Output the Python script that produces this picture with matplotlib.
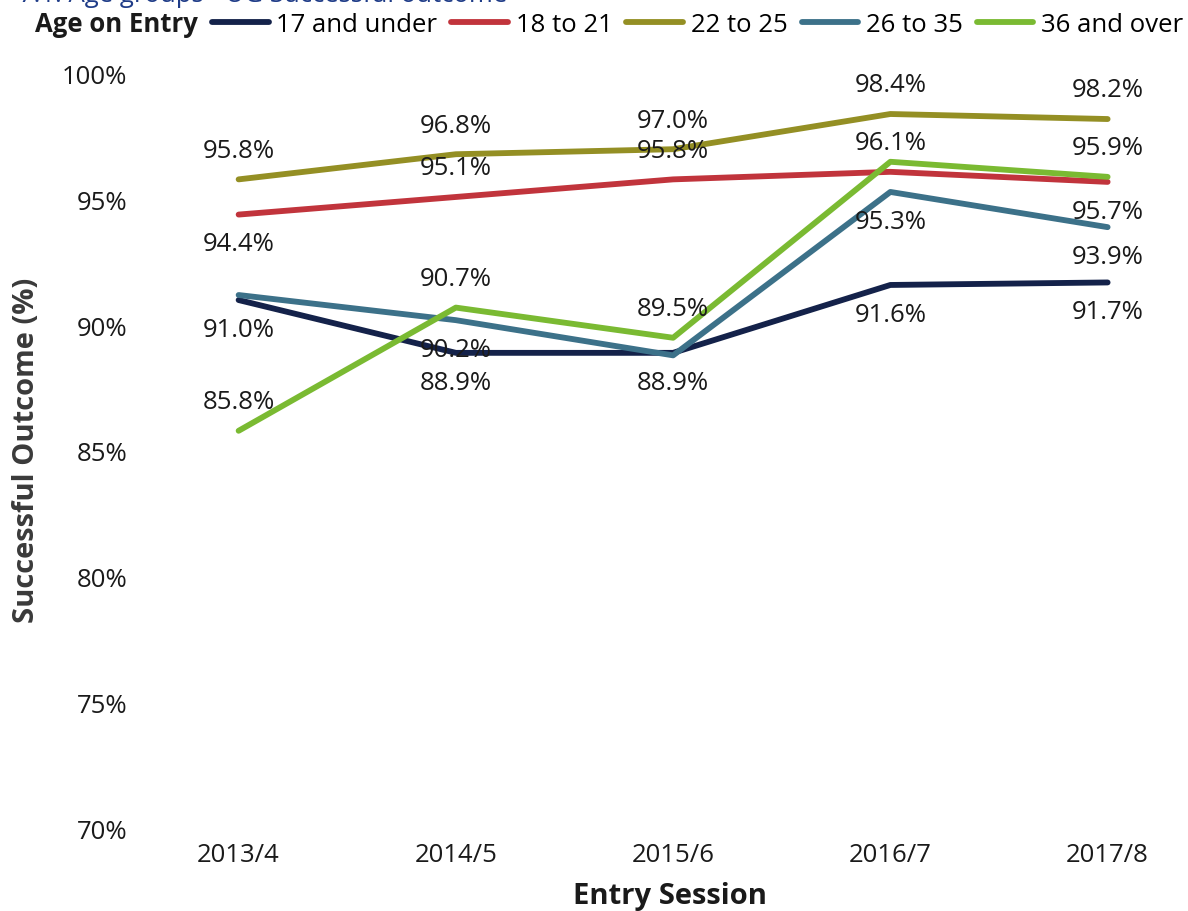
import matplotlib
matplotlib.use("Agg")
import matplotlib.pyplot as plt

plt.rcParams['font.family'] = ['Open Sans', 'DejaVu Sans']

sessions = ["2013/4", "2014/5", "2015/6", "2016/7", "2017/8"]
age_groups = ["17 and under", "18 to 21", "22 to 25", "26 to 35", "36 and over"]

under_17 = [91.0, 88.9, 88.9, 91.6, 91.7]
age_18_21 = [94.4, 95.1, 95.8, 96.1, 95.7]
age_22_25 = [95.8, 96.8, 97.0, 98.4, 98.2]
age_26_35 = [91.2, 90.2, 88.8, 95.3, 93.9]
over_36 = [85.8, 90.7, 89.5, 96.5, 95.9]

series = [under_17, age_18_21, age_22_25, age_26_35, over_36]
colors = ["#14224a", "#c1343c", "#948f24", "#3c7189", "#7aba32"]

# where the data label sits for each point (None = label hidden, as in the original)
label_side = [
    ["below", "below", "below", "below", "below"],
    ["below", "above", "above", "above", "below"],
    ["above", "above", "above", "above", "above"],
    [None, "below", None, "below", "below"],
    ["above", "above", "above", None, "above"],
]

FS = 18.5

fig = plt.figure(figsize=(11.88, 9.12), dpi=100)
ax = fig.add_axes([130 / 1188, 0.091, 1058 / 1188, 0.827])

x = list(range(len(sessions)))
for vals, col, name in zip(series, colors, age_groups):
    ax.plot(x, vals, color=col, lw=4.2, solid_capstyle='round', label=name)

for vals, sides in zip(series, label_side):
    for xi, v, side in zip(x, vals, sides):
        if side is None:
            continue
        dy = 21 if side == "above" else -21
        ax.annotate(f"{v:.1f}%", (xi, v), xytext=(0, dy), textcoords='offset points',
                    ha='center', va='center', fontsize=FS, color='#1a1a1a')

ax.set_xlim(-0.5, 4.37)
ax.set_ylim(70, 100)
ax.set_xticks(x)
ax.set_xticklabels(sessions)
ax.set_yticks([70, 75, 80, 85, 90, 95, 100])
ax.set_yticklabels([f"{t}%" for t in [70, 75, 80, 85, 90, 95, 100]])
ax.tick_params(axis='both', length=0, labelsize=FS, colors='#1a1a1a')
ax.tick_params(axis='x', pad=10)
ax.tick_params(axis='y', pad=2)
for s in ax.spines.values():
    s.set_visible(False)

fig.text(27 / 1188, 1 - 450 / 912, "Successful Outcome (%)", rotation=90,
         ha='center', va='center', fontsize=21, fontweight='bold', color='#3a3a3a')
fig.text(670 / 1188, 1 - 897 / 912, "Entry Session", ha='center', va='center',
         fontsize=21, fontweight='bold', color='#1a1a1a')

# title is cut off at the top edge of the original picture
fig.text(507 / 1188, 1 - 1.5 / 912, "7.1: Age groups - UG Successful outcome",
         ha='right', va='baseline', fontsize=FS, color='#1f3c88')

fig.text(35 / 1188, 1 - 25 / 912, "Age on Entry", ha='left', va='center',
         fontsize=FS, fontweight='bold', color='#1a1a1a')
fig.legend(loc='center left', bbox_to_anchor=(212 / 1188, 1 - 25 / 912), ncol=5,
           frameon=False, fontsize=FS, handlelength=2.2, handletextpad=0.3,
           columnspacing=0.55, borderpad=0, borderaxespad=0)

fig.savefig("out.png", dpi=100)
